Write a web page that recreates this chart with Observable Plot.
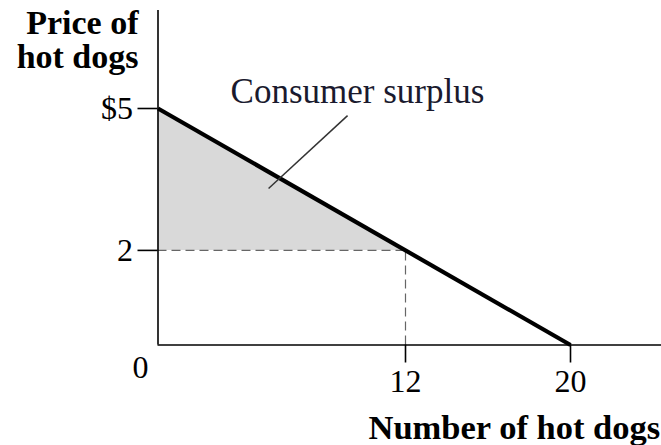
<!DOCTYPE html>
<html>
<head>
<meta charset="utf-8">
<script src="https://cdn.jsdelivr.net/npm/d3@7"></script>
<script src="https://cdn.jsdelivr.net/npm/@observablehq/plot@0.6"></script>
<style>
  html, body { margin: 0; padding: 0; background: white; }
</style>
</head>
<body>
<div id="chart"></div>
<script>
// Data
const demand = [{q: 0, p: 5}, {q: 20, p: 0}];
const surplusEdge = [{q: 0, p: 5}, {q: 12, p: 2}];
const eqQ = 12;
const eqP = 2;
const yTicks = [5, 2];
const yTickLabels = ["$5", "2"];
const xTicks = [12, 20];
const xTickLabels = ["12", "20"];
const xAxisMax = 24.5;
const yAxisMax = 7.07;
const annotation = [{q: 9.67, p: 5.36, text: "Consumer surplus"}];
const leader = [{q1: 9.19, p1: 4.85, q2: 5.36, p2: 3.31}];

const serif = "Liberation Serif";

const chart = Plot.plot({
  width: 661,
  height: 445,
  marginTop: 108, marginRight: 91, marginBottom: 100.5, marginLeft: 157.5,
  style: {fontFamily: serif, color: "black", background: "white", overflow: "visible"},
  x: {domain: [0, 20]},
  y: {domain: [0, 5]},
  marks: [
    Plot.areaY(surplusEdge, {x: "q", y1: eqP, y2: "p", fill: "#d9d9d9"}),
    Plot.ruleY([eqP], {x1: 0, x2: eqQ, stroke: "#666", strokeWidth: 1.2, strokeDasharray: "9,5"}),
    Plot.ruleX([eqQ], {y1: 0, y2: eqP, stroke: "#666", strokeWidth: 1.2, strokeDasharray: "9,5"}),
    Plot.ruleX([0], {y1: 0, y2: yAxisMax, stroke: "black", strokeWidth: 1.6, clip: false}),
    Plot.ruleY([0], {x1: 0, x2: xAxisMax, stroke: "black", strokeWidth: 1.6, clip: false}),
    Plot.axisY({ticks: yTicks, tickFormat: (d) => yTickLabels[yTicks.indexOf(d)], tickSize: 20, tickPadding: 5,
      fontSize: 32, strokeWidth: 1.6, label: null}),
    Plot.axisX({ticks: xTicks, tickFormat: (d) => xTickLabels[xTicks.indexOf(d)], tickSize: 18, tickPadding: 6,
      fontSize: 32, strokeWidth: 1.6, label: null}),
    Plot.text(["0"], {x: 0, y: 0, text: (d) => d, dx: -17.5, dy: 23, fontSize: 32}),
    Plot.line(demand, {x: "q", y: "p", stroke: "black", strokeWidth: 4.2, strokeLinecap: "butt"}),
    Plot.link(leader, {x1: "q1", y1: "p1", x2: "q2", y2: "p2", stroke: "#333", strokeWidth: 1.5}),
    Plot.text(annotation, {x: "q", y: "p", text: "text", fontSize: 35, fill: "#1a1a2e"}),
    Plot.text(["Price of\nhot dogs"], {frameAnchor: "top-left", textAnchor: "end", lineAnchor: "top",
      dx: -19.5, dy: -99, fontSize: 34, fontWeight: "bold", lineHeight: 1}),
    Plot.text(["Number of hot dogs"], {frameAnchor: "top-left", textAnchor: "start", lineAnchor: "top",
      dx: 210.5, dy: 305.5, fontSize: 34.5, fontWeight: "bold"})
  ]
});
document.getElementById("chart").appendChild(chart);
</script>
</body>
</html>
